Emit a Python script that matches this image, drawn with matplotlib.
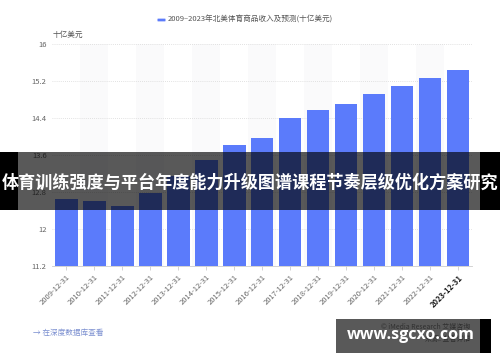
import matplotlib
matplotlib.use("Agg")
import matplotlib.pyplot as plt
from matplotlib.patches import Rectangle, FancyBboxPatch

plt.rcParams['font.family'] = ['Noto Sans CJK SC', 'DejaVu Sans']

# data
dates = ["2009-12-31", "2010-12-31", "2011-12-31", "2012-12-31", "2013-12-31",
         "2014-12-31", "2015-12-31", "2016-12-31", "2017-12-31", "2018-12-31",
         "2019-12-31", "2020-12-31", "2021-12-31", "2022-12-31", "2023-12-31"]
revenue = [12.65, 12.60, 12.49, 12.79, 13.14, 13.50, 13.83, 13.97,
           14.40, 14.58, 14.71, 14.92, 15.09, 15.27, 15.44]
yticks = [11.2, 12, 12.8, 13.6, 14.4, 15.2, 16]
ytick_labels = ["11.2", "12", "12.8", "13.6", "14.4", "15.2", "16"]
legend_text = "2009–2023年北美体育商品收入及预测(十亿美元)"
unit_text = "十亿美元"
banner = "体育训练强度与平台年度能力升级图谱课程节奏层级优化方案研究"

bar_color = "#5b7bfb"

fig = plt.figure(figsize=(5, 3.62), dpi=100)
ax = fig.add_axes([0.1046, 0.2652, 0.8394, 0.6119])

x = list(range(len(dates)))
# faint alternating column background
for i in x:
    if i % 2 == 1:
        ax.axvspan(i - 0.5, i + 0.5, color="#fafafb", zorder=0, lw=0)
ax.bar(x, [v - 11.2 for v in revenue], bottom=11.2, width=0.81,
       color=bar_color, zorder=3)

ax.set_xlim(-0.5, len(dates) - 0.5)
ax.set_ylim(11.2, 16)
ax.set_yticks(yticks)
ax.set_yticklabels(ytick_labels, fontsize=5.5, color="#666666")
ax.yaxis.grid(True, linestyle=(0, (1, 1.5)), color="#d8d8d8", lw=0.6, zorder=1)
ax.tick_params(axis="y", length=0, pad=4)
ax.set_xticks(x)
ax.set_xticklabels(dates, rotation=45, ha="right", rotation_mode="anchor",
                   fontsize=5.5, color="#666666")
ax.get_xticklabels()[-1].set_fontweight("bold")
ax.get_xticklabels()[-1].set_color("#222222")
ax.tick_params(axis="x", length=3, color="#cccccc", width=0.6, pad=2)
for s in ["top", "right", "left"]:
    ax.spines[s].set_visible(False)
ax.spines["bottom"].set_color("#cccccc")
ax.spines["bottom"].set_linewidth(0.6)

# legend and unit
fig.patches.append(FancyBboxPatch((158 / 500, 1 - 21 / 362), 7 / 500, 2 / 362,
                                  boxstyle="round,pad=0.001", transform=fig.transFigure,
                                  color=bar_color, lw=0))
fig.text(168 / 500, 1 - 20 / 362, legend_text, fontsize=5.5, color="#555555",
         va="center", ha="left")
fig.text(53 / 500, 1 - 35 / 362, unit_text, fontsize=5.5, color="#555555",
         va="center", ha="left")

# footer text
fig.text(33 / 500, 1 - 333 / 362, "→ 在深度数据库查看", fontsize=5.5,
         color="#7b8fd0", va="center", ha="left")
fig.text(470 / 500, 1 - 327 / 362, "© iMedia Research 艾媒咨询", fontsize=5,
         color="#888888", va="center", ha="right")
fig.text(470 / 500, 1 - 339 / 362, "来源: 查看详情", fontsize=5,
         color="#888888", va="center", ha="right")

# overlay banner
fig.patches.append(Rectangle((0, 1 - 210 / 362), 1, 58 / 362, transform=fig.transFigure,
                             color="black", alpha=0.65, lw=0, zorder=10))
fig.patches.append(Rectangle((0, 1 - 210 / 362), 18 / 500, 58 / 362, transform=fig.transFigure,
                             color="black", lw=0, zorder=11))
fig.patches.append(Rectangle((480 / 500, 1 - 210 / 362), 20 / 500, 58 / 362,
                             transform=fig.transFigure, color="black", lw=0, zorder=11))
fig.text(0.5, 1 - 183 / 362, banner, fontsize=12.3, fontweight="bold", color="white",
         va="center", ha="center", zorder=12)

# watermark box
fig.patches.append(Rectangle((336 / 500, 1 - 353 / 362), 144 / 500, 34 / 362,
                             transform=fig.transFigure, color="black", alpha=0.65,
                             lw=0, zorder=10))
fig.patches.append(Rectangle((480 / 500, 1 - 353 / 362), 11 / 500, 34 / 362,
                             transform=fig.transFigure, color="black", lw=0, zorder=11))
fig.text(411 / 500, 1 - 335 / 362, "www.sgcxo.com", fontsize=11.5, fontweight="bold",
         color="white", va="center", ha="center", zorder=12,
         family=["Open Sans", "DejaVu Sans"])

fig.savefig("out.png", dpi=100)
